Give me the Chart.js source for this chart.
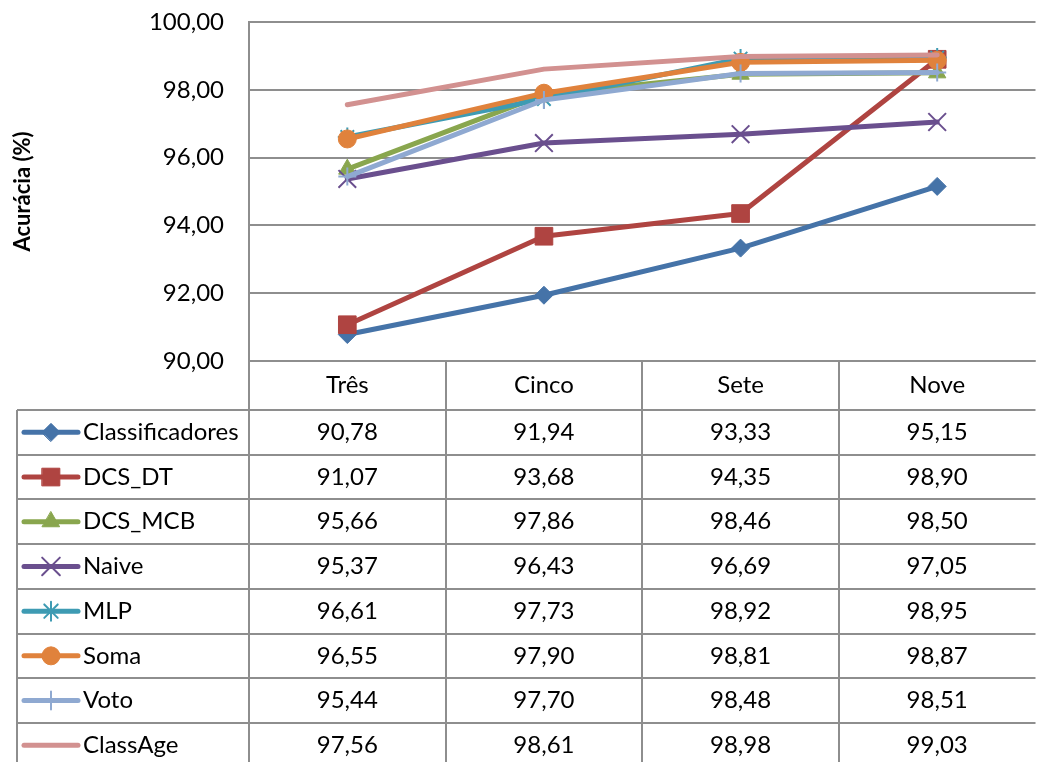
<!DOCTYPE html>
<html>
<head>
<meta charset="utf-8">
<script src="https://cdn.jsdelivr.net/npm/chart.js@4.4.0/dist/chart.umd.min.js"></script>
<style>
	html, body { margin: 0; padding: 0; background: #fff; overflow: hidden; }
	#chart { display: block; }
</style>
</head>
<body>
<canvas id="chart" width="1050" height="762"></canvas>
<script>
// Data
var categories = ['Três', 'Cinco', 'Sete', 'Nove'];
var seriesNames = ['Classificadores', 'DCS_DT', 'DCS_MCB', 'Naive', 'MLP', 'Soma', 'Voto', 'ClassAge'];
var classificadores = [90.78, 91.94, 93.33, 95.15];
var dcsDt = [91.07, 93.68, 94.35, 98.90];
var dcsMcb = [95.66, 97.86, 98.46, 98.50];
var naive = [95.37, 96.43, 96.69, 97.05];
var mlp = [96.61, 97.73, 98.92, 98.95];
var soma = [96.55, 97.90, 98.81, 98.87];
var voto = [95.44, 97.70, 98.48, 98.51];
var classAge = [97.56, 98.61, 98.98, 99.03];
var yTicks = [90, 92, 94, 96, 98, 100];

var seriesValues = [classificadores, dcsDt, dcsMcb, naive, mlp, soma, voto, classAge];
var colors = ['#4573A8', '#AF4441', '#89A64E', '#6A4F8E', '#3E9BB3', '#E0823C', '#8FA9D1', '#D29190'];
var markers = ['rectRot', 'rect', 'triangle', 'crossRot', 'star', 'circle', 'cross', false];
var markerSize = [9, 12.5, 10, 12.5, 9.5, 9, 9, 0];

function fmt(v) {
	return v.toFixed(2).replace('.', ',');
}

Chart.defaults.font.family = 'Lato';
Chart.defaults.font.size = 24;
Chart.defaults.color = '#000';

/***************************************
           Data table under plot
***************************************/

var dataTable = {
	id: 'dataTable',
	afterDraw: function(chart) {
		var ctx = chart.ctx;
		var x = chart.scales.x;
		var area = chart.chartArea;
		var colW = x.getPixelForValue(1) - x.getPixelForValue(0);
		var headTop = area.bottom;
		var rowsTop = 410;
		var rowH = 44.7;
		var tableLeft = 17;
		var bottom = chart.height + 10;

		ctx.save();
		ctx.strokeStyle = '#8e8e8e';
		ctx.lineWidth = 2;
		ctx.beginPath();
		// horizontal lines
		ctx.moveTo(area.left, headTop);
		ctx.lineTo(area.right, headTop);
		for (var r = 0; r <= seriesNames.length; r++) {
			var y = Math.round(rowsTop + r * rowH);
			ctx.moveTo(tableLeft, y);
			ctx.lineTo(area.right, y);
		}
		// vertical lines
		ctx.moveTo(tableLeft, rowsTop);
		ctx.lineTo(tableLeft, bottom);
		ctx.moveTo(area.left, headTop);
		ctx.lineTo(area.left, bottom);
		for (var c = 1; c < categories.length; c++) {
			var vx = Math.round(x.getPixelForValue(c) - colW / 2);
			ctx.moveTo(vx, headTop);
			ctx.lineTo(vx, bottom);
		}
		ctx.stroke();

		// texts
		ctx.fillStyle = '#000';
		ctx.font = '24px Lato';
		ctx.textBaseline = 'middle';
		ctx.textAlign = 'center';
		categories.forEach(function(cat, i) {
			ctx.fillText(cat, x.getPixelForValue(i), (headTop + rowsTop) / 2);
		});
		seriesNames.forEach(function(name, r) {
			var cy = rowsTop + r * rowH + rowH / 2;
			seriesValues[r].forEach(function(v, i) {
				ctx.fillText(fmt(v), x.getPixelForValue(i), cy);
			});
			ctx.textAlign = 'left';
			ctx.fillText(name, 83, cy);
			ctx.textAlign = 'center';

			// legend key
			ctx.strokeStyle = colors[r];
			ctx.fillStyle = colors[r];
			ctx.lineWidth = 5;
			ctx.lineCap = 'round';
			ctx.beginPath();
			ctx.moveTo(24, cy);
			ctx.lineTo(78, cy);
			ctx.stroke();
			if (markers[r]) {
				ctx.lineWidth = markers[r].indexOf('cross') === 0 || markers[r] === 'star' ? 2 : 1;
				Chart.helpers.drawPoint(ctx, {pointStyle: markers[r], radius: markerSize[r], rotation: 0, borderWidth: ctx.lineWidth}, 51, cy);
			}
			ctx.fillStyle = '#000';
		});
		ctx.restore();
	}
};

/***************************************
                 Chart
***************************************/

var datasets = seriesNames.map(function(name, i) {
	var thin = markers[i] && (markers[i].indexOf('cross') === 0 || markers[i] === 'star');
	return {
		label: name,
		data: seriesValues[i],
		borderColor: colors[i],
		backgroundColor: colors[i],
		borderWidth: 5,
		borderCapStyle: 'round',
		borderJoinStyle: 'round',
		pointStyle: markers[i],
		pointRadius: markers[i] ? markerSize[i] : 0,
		pointBorderWidth: thin ? 2 : 1,
		pointHoverRadius: markerSize[i],
		tension: 0,
		order: seriesNames.length - i
	};
});

new Chart(document.getElementById('chart'), {
	type: 'line',
	data: {
		labels: categories,
		datasets: datasets
	},
	options: {
		responsive: false,
		animation: false,
		devicePixelRatio: 1,
		layout: {
			padding: {top: 22, right: 1, bottom: 401, left: 0}
		},
		plugins: {
			legend: {display: false},
			tooltip: {enabled: false}
		},
		scales: {
			x: {
				display: false,
				offset: true
			},
			y: {
				min: 90,
				max: 100,
				afterBuildTicks: function(scale) {
					scale.ticks = yTicks.map(function(v) { return {value: v}; });
				},
				afterFit: function(scale) {
					scale.width = 249;
					// tick padding should not push the plot top down
					scale.paddingTop = 15;
					scale.paddingBottom = 15;
				},
				grid: {
					color: '#8e8e8e',
					lineWidth: 2,
					drawTicks: false
				},
				border: {
					color: '#8e8e8e',
					width: 2
				},
				ticks: {
					padding: 25,
					callback: function(v) { return fmt(v); }
				},
				title: {
					display: true,
					text: 'Acurácia (%)',
					font: {size: 22, weight: 'bold'},
					padding: {top: 10, bottom: 0}
				}
			}
		}
	},
	plugins: [dataTable]
});
</script>
</body>
</html>
